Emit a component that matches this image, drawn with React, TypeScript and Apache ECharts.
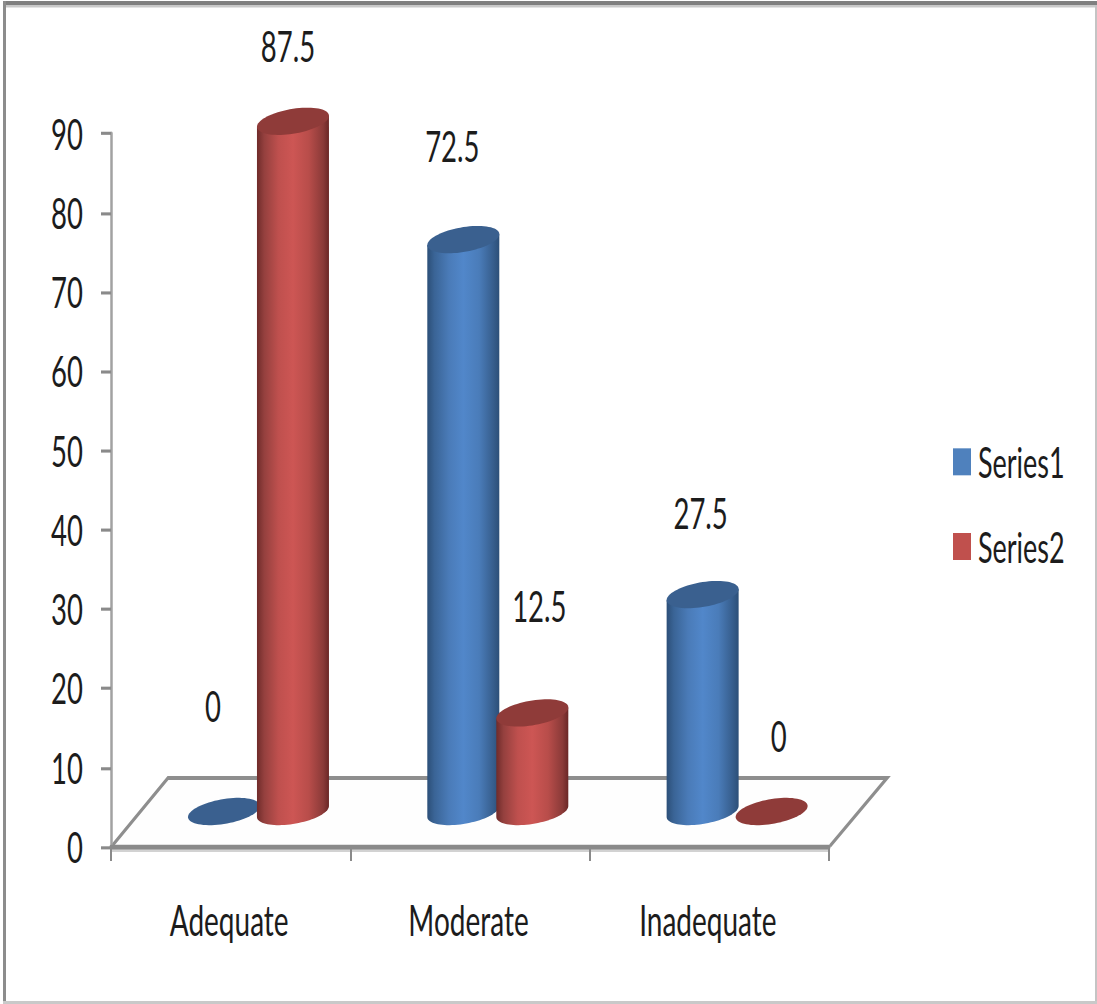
import React, { useEffect, useRef } from "react";
import * as echarts from "echarts";

const categories = ["Adequate", "Moderate", "Inadequate"];
const series1Values = [0, 72.5, 27.5];
const series2Values = [87.5, 12.5, 0];
const axisTicks = { min: 0, max: 90, interval: 10 };

// Offsets of each value label from its cylinder's top centre, in page pixels.
const series1LabelOffsets = [[-11, -106], [-11, -94], [-2, -82]];
const series2LabelOffsets = [[-5, -75], [7, -107], [7, -76]];

const PAGE_W = 1097;
const PAGE_H = 1004;
// The plot is laid out squat and stretched vertically, which gives the tall, narrow lettering.
const STRETCH = 1.55;
const py = (y: number) => y / STRETCH;

const FONT = 'Lato, "Liberation Sans", sans-serif';
const TEXT_COLOR = "#1c1c1c";
const FONT_SIZE = 27.5;

// Floor projection of the 3-D plot: the shift from the front edge to the bars' centre line.
const DEPTH_X = 26.8;
const DEPTH_Y = py(35.5);
const HEIGHT_SCALE = 0.995;
const BAR_SHIFT = 34.5;
const RX = 36;
const RY = py(12.5);
const TILT = py(5.5);

const bluePalette = {
  top: "#3a608f",
  stops: [
    { offset: 0, color: "#2c4f78" },
    { offset: 0.1, color: "#3a6496" },
    { offset: 0.3, color: "#4a7bb8" },
    { offset: 0.5, color: "#5187ca" },
    { offset: 0.72, color: "#4a7cb9" },
    { offset: 0.92, color: "#365d8c" },
    { offset: 1, color: "#2c4f78" },
  ],
};
const redPalette = {
  top: "#8f3b39",
  stops: [
    { offset: 0, color: "#6f2b2a" },
    { offset: 0.1, color: "#94403e" },
    { offset: 0.3, color: "#bf504e" },
    { offset: 0.5, color: "#cd5654" },
    { offset: 0.72, color: "#b84d4a" },
    { offset: 0.92, color: "#8a3a38" },
    { offset: 1, color: "#6a2726" },
  ],
};

function arcPoints(cx: number, cy: number, from: number, to: number, steps = 40) {
  const pts: number[][] = [];
  for (let i = 0; i <= steps; i++) {
    const t = from + ((to - from) * i) / steps;
    pts.push([cx + RX * Math.cos(t), cy + RY * Math.sin(t) - TILT * Math.cos(t)]);
  }
  return pts;
}

function cylinderSeries(
  name: string,
  values: number[],
  shift: number,
  palette: typeof bluePalette,
  labelOffsets: number[][]
) {
  return {
    name,
    type: "custom",
    clip: false,
    z: 3,
    encode: { x: 0, y: 1 },
    data: values.map((v, i) => [i, v]),
    renderItem: (_params: any, api: any) => {
      const cat = api.value(0);
      const value = api.value(1);
      const base = api.coord([cat, 0]);
      const peak = api.coord([cat, value]);
      const cx = base[0] + DEPTH_X + shift;
      const bottom = base[1] - DEPTH_Y;
      const top = bottom - (base[1] - peak[1]) * HEIGHT_SCALE;
      const children: any[] = [];
      if (value > 0) {
        const lower = arcPoints(cx, bottom, 0, Math.PI);
        const right = [cx + RX, top - TILT];
        const left = [cx - RX, top + TILT];
        children.push({
          type: "polygon",
          shape: { points: [right, ...lower, left] },
          style: {
            fill: { type: "linear", x: 0, y: 0, x2: 1, y2: 0, colorStops: palette.stops },
          },
        });
      }
      children.push({
        type: "polygon",
        shape: { points: arcPoints(cx, top, 0, Math.PI * 2, 72) },
        style: { fill: palette.top },
      });
      const off = labelOffsets[cat];
      children.push({
        type: "text",
        x: cx + off[0],
        y: top + py(off[1]),
        style: {
          text: String(value),
          fill: TEXT_COLOR,
          font: `${FONT_SIZE}px ${FONT}`,
          align: "center",
          verticalAlign: "middle",
        },
      });
      return { type: "group", children };
    },
  };
}

// Plot frame and floor, in page pixels converted to the squat layout.
const floorLine = "#8e8e8e";
const frameGraphics = [
  { type: "rect", shape: { x: 3, y: py(1), width: 1094, height: py(4) }, style: { fill: "#808080" } },
  { type: "rect", shape: { x: 3, y: py(5), width: 1094, height: py(2.5) }, style: { fill: "#c9c9c9" } },
  { type: "rect", shape: { x: 3, y: py(1), width: 3, height: py(1003) }, style: { fill: "#8c8c8c" } },
  { type: "rect", shape: { x: 1095, y: py(5), width: 2, height: py(999) }, style: { fill: "#c4c4c4" } },
  { type: "rect", shape: { x: 3, y: py(1001), width: 1094, height: py(3) }, style: { fill: "#c9c9c9" } },
  {
    type: "polygon",
    shape: { points: [[112, py(847)], [830, py(847)], [887, py(778)], [168, py(778)]] },
    style: { fill: "#fefefe" },
  },
  {
    type: "polyline",
    shape: { points: [[112, py(846)], [168, py(778)], [887, py(778)], [830, py(846)]] },
    style: { stroke: floorLine, lineWidth: 2.6, fill: "none" },
  },
  { type: "rect", shape: { x: 112, y: py(849), width: 718, height: py(3) }, style: { fill: "#d2d2d2" } },
];

export default function App() {
  const ref = useRef<HTMLDivElement>(null);

  useEffect(() => {
    const chart = echarts.init(ref.current!, undefined, { renderer: "svg" });
    chart.setOption({
      animation: false,
      backgroundColor: "#ffffff",
      grid: { left: 111, width: 718, top: py(133.5), height: py(713.5), containLabel: false },
      xAxis: {
        type: "category",
        data: categories,
        axisLine: { lineStyle: { color: "#8a8a8a", width: 3 } },
        axisTick: { show: true, length: py(14), lineStyle: { color: "#8a8a8a", width: 2 } },
        axisLabel: {
          color: TEXT_COLOR,
          fontFamily: FONT,
          fontSize: 28,
          margin: py(51),
          padding: [0, 3, 0, 0],
        },
      },
      yAxis: {
        type: "value",
        min: axisTicks.min,
        max: axisTicks.max,
        interval: axisTicks.interval,
        splitLine: { show: false },
        axisLine: { show: true, lineStyle: { color: "#a2a2a2", width: 2.5 } },
        axisTick: { show: true, length: 10, lineStyle: { color: "#8a8a8a", width: 2 } },
        axisLabel: { color: TEXT_COLOR, fontFamily: FONT, fontSize: FONT_SIZE, margin: 28 },
      },
      legend: {
        orient: "vertical",
        left: 953,
        top: py(459.5) - 12,
        padding: 0,
        itemWidth: 18,
        itemHeight: py(27),
        itemGap: py(80) - 24,
        selectedMode: false,
        textStyle: {
          color: TEXT_COLOR,
          fontFamily: FONT,
          fontSize: 27,
          lineHeight: 24,
          padding: [0, 0, 0, 2],
        },
        data: [
          { name: "Series1", icon: "rect", itemStyle: { color: "#4f81bd" } },
          { name: "Series2", icon: "rect", itemStyle: { color: "#c0504d" } },
        ],
      },
      graphic: { elements: frameGraphics.map((g) => ({ ...g, z: 0, silent: true })) },
      series: [
        cylinderSeries("Series1", series1Values, -BAR_SHIFT + 1, bluePalette, series1LabelOffsets),
        cylinderSeries("Series2", series2Values, BAR_SHIFT + 1, redPalette, series2LabelOffsets),
      ],
    });
    return () => chart.dispose();
  }, []);

  return (
    <div
      style={{
        position: "absolute",
        left: 0,
        top: 0,
        width: PAGE_W,
        height: PAGE_H,
        overflow: "hidden",
        background: "#fff",
      }}
    >
      <div
        ref={ref}
        style={{
          width: PAGE_W,
          height: py(PAGE_H),
          transform: `scaleY(${STRETCH})`,
          transformOrigin: "0 0",
        }}
      />
    </div>
  );
}
